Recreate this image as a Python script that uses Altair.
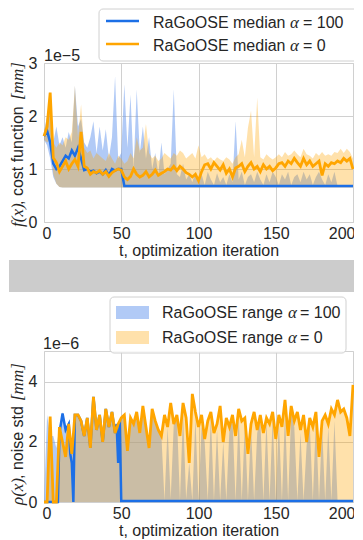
import altair as alt
import pandas as pd

# ---------------- data ----------------
T = list(range(0, 201, 2))

# top panel: f(x), cost function, units of 1e-5
fx_med_a100 = ([1.62, 1.72, 1.50, 1.10, 1.00, 1.05, 1.15, 1.25, 1.20, 1.35,
                1.25, 1.40, 1.20, 0.98, 1.00, 0.95, 0.97, 0.92, 0.95, 0.90,
                0.98, 0.88, 1.00, 0.97, 1.00, 1.00] + [0.68] * 75)
fx_med_a0 = [1.62, 1.80, 2.44, 1.21, 1.12, 0.95, 1.05, 1.15, 1.00, 1.10,
             1.18, 1.05, 1.70, 1.05, 1.02, 0.90, 0.95, 0.93, 0.97, 0.90,
             0.95, 0.86, 0.93, 0.97, 1.00, 0.98, 0.85, 0.80, 0.86, 1.00,
             0.90, 0.85, 0.88, 0.95, 0.85, 0.90, 0.98, 0.88, 0.92, 0.95,
             1.00, 0.98, 1.05, 0.97, 1.05, 1.00, 0.93, 0.90, 0.85, 0.90,
             0.78, 0.95, 1.08, 1.10, 1.00, 1.12, 1.05, 0.98, 1.08, 0.92,
             1.00, 0.85, 1.02, 1.05, 1.10, 0.95, 1.05, 1.12, 1.00, 1.05,
             0.95, 1.08, 1.00, 1.05, 0.97, 1.02, 1.10, 1.12, 1.05, 1.15,
             1.10, 1.20, 1.12, 1.05, 1.20, 1.08, 1.15, 1.05, 1.10, 1.15,
             0.88, 1.10, 1.05, 1.12, 1.10, 1.15, 1.12, 1.20, 1.15, 1.20,
             1.00]
fx_lo_a100 = [1.55, 1.45, 1.20, 0.85, 0.72, 0.66] + [0.65] * 95
fx_hi_a100 = [1.70, 2.00, 2.10, 1.50, 1.80, 1.45, 1.60, 1.40, 1.70, 1.50,
              2.57, 1.80, 1.95, 1.50, 1.40, 1.60, 1.90, 1.30, 1.80, 1.35,
              1.75, 1.20, 1.60, 2.75, 1.20, 1.30, 2.60, 1.40, 2.40, 1.00,
              2.50, 1.30, 1.80, 1.20, 1.60, 1.00, 1.30, 0.90, 1.50, 0.90,
              1.00, 1.10, 2.50, 0.90, 0.85, 1.10, 0.80, 0.90, 0.75, 0.95,
              0.80, 0.90, 0.70, 0.95, 0.80, 0.70, 0.92, 0.75, 0.85, 0.70,
              0.90, 0.75, 1.90, 0.80, 0.95, 0.70, 0.85, 0.90, 0.75, 0.95,
              0.80, 0.70, 0.90, 0.75, 0.95, 0.85, 0.70, 0.90, 0.80, 0.95,
              0.70, 0.85, 0.90, 0.75, 0.95, 0.80, 0.90, 0.70, 0.85, 0.95,
              0.80, 0.70, 0.90, 0.75, 0.95, 0.68, 0.68, 0.68, 0.68, 0.68,
              0.68]
fx_lo_a0 = [1.55, 1.50, 1.55, 0.90, 0.72, 0.66] + [0.65] * 95
fx_hi_a0 = [1.70, 2.00, 2.45, 1.50, 1.40, 1.50, 1.45, 1.60, 1.55, 1.70,
            2.57, 1.60, 2.22, 1.40, 1.30, 1.35, 1.20, 1.30, 1.25, 1.20,
            1.15, 1.30, 1.20, 1.10, 1.25, 1.20, 1.10, 1.15, 1.30, 1.20,
            1.60, 1.35, 1.40, 1.85, 1.30, 1.20, 1.25, 1.15, 1.20, 1.30,
            1.25, 1.20, 1.30, 1.25, 1.35, 1.30, 1.20, 1.25, 1.30, 1.20,
            1.45, 1.22, 1.28, 1.18, 1.22, 1.15, 1.22, 1.18, 1.15, 1.22,
            1.18, 1.10, 1.22, 1.28, 1.55, 1.22, 1.78, 2.10, 1.22, 2.35,
            1.22, 1.18, 1.28, 1.22, 1.18, 1.22, 1.28, 1.22, 1.32, 1.25,
            1.28, 1.35, 1.28, 1.22, 1.38, 1.28, 1.25, 1.20, 1.30, 1.25,
            1.32, 1.25, 1.28, 1.25, 1.32, 1.30, 1.38, 1.30, 1.38, 1.32,
            1.20]

# bottom panel: rho(x), noise std, units of 1e-6
rho_med_a0 = [0.00, 0.00, 2.85, 0.00, 0.00, 2.50, 2.00, 1.50, 2.60, 1.60,
              2.90, 2.90, 2.70, 2.20, 2.80, 1.80, 3.50, 2.40, 2.90, 2.00,
              3.10, 2.50, 3.00, 2.30, 2.60, 2.80, 2.90, 1.70, 2.80, 2.60,
              3.00, 2.30, 3.20, 2.50, 1.80, 3.10, 2.70, 2.40, 2.20, 2.90,
              2.50, 3.30, 2.60, 2.90, 2.20, 3.30, 2.80, 1.30, 3.60, 3.00,
              2.50, 2.90, 2.10, 2.70, 3.00, 2.30, 2.60, 3.20, 2.00, 2.80,
              2.50, 2.90, 2.20, 3.10, 2.70, 2.80, 1.60, 2.60, 3.00, 2.40,
              2.90, 2.30, 2.80, 2.60, 3.00, 2.10, 2.90, 2.50, 3.40, 2.20,
              3.20, 2.70, 3.00, 2.40, 2.90, 2.00, 2.80, 2.50, 3.00, 1.50,
              2.70, 2.90, 2.60, 3.10, 2.90, 3.40, 3.00, 3.10, 2.80, 2.20,
              3.90]
rho_hi_a100 = [0.00, 2.90, 2.20, 2.20, 1.80, 2.50, 3.00, 2.40, 2.60, 1.50,
               2.90, 2.90, 2.70, 2.20, 2.80, 1.80, 3.40, 2.40, 2.90, 2.00,
               3.00, 2.50, 3.00, 2.30, 2.60, 2.80, 2.90, 1.70, 2.80, 2.60,
               3.00, 2.30, 3.10, 2.50, 1.80, 3.00, 2.70, 2.40, 2.20, 0.05,
               2.50, 0.10, 2.60, 2.90, 0.05, 3.00, 0.10, 1.30, 0.05, 2.80,
               0.05, 2.50, 2.00, 0.05, 2.90, 0.05, 2.40, 0.05, 2.00, 0.05,
               2.40, 2.80, 0.05, 2.90, 0.05, 2.60, 0.05, 2.50, 0.05, 2.30,
               2.80, 0.05, 2.70, 0.05, 2.80, 0.05, 2.70, 0.05, 3.00, 0.05,
               3.00, 2.50, 0.05, 2.30, 0.05, 1.90, 2.60, 0.05, 2.80, 0.05,
               2.50, 0.05, 2.50, 0.05, 2.70, 0.05, 0.05, 0.05, 0.05, 0.05,
               0.05]
rho_med_a100_t = [0, 9, 10, 12, 14, 16, 17, 18, 19, 20, 22, 24, 26, 28, 30,
                  32, 34, 36, 38, 40, 42, 44, 46, 47, 48, 49, 50, 200]
rho_med_a100 = [0, 0, 2.3, 2.95, 2.4, 2.6, 1.6, 1.3, 0, 2.9, 2.9, 2.7, 2.2,
                2.8, 1.8, 3.5, 2.4, 2.9, 2.0, 3.1, 2.5, 3.0, 2.3, 2.6, 1.3,
                2.7, 0.03, 0.03]

x_ticks = [0, 50, 100, 150, 200]
fx_ticks = [0, 1, 2, 3]
rho_ticks = [0, 2, 4]

# ---------------- style ----------------
SANS = "Liberation Sans"
SERIF = "Liberation Serif"
INK = "#262626"
BLUE = "#1c6fe6"
ORANGE = "#ffa500"
BLUE_FILL = "#6495ed"
GREY = "#cccccc"
FRAME = "#d0d0d0"

top_df = pd.DataFrame({"t": T, "med100": fx_med_a100, "med0": fx_med_a0,
                       "lo100": fx_lo_a100, "hi100": fx_hi_a100,
                       "lo0": fx_lo_a0, "hi0": fx_hi_a0})
bot_df = pd.DataFrame({"t": T, "med0": rho_med_a0, "hi100": rho_hi_a100})
bot_blue = pd.DataFrame({"t": rho_med_a100_t, "med100": rho_med_a100})
one = pd.DataFrame({"k": [0]})


def X():
    return alt.X("t:Q", scale=alt.Scale(domain=[0, 200], nice=False, zero=False),
                 axis=alt.Axis(values=x_ticks, title="t, optimization iteration",
                               labelPadding=3, titlePadding=1,
                               labelFlush=True, labelFlushOffset=2))


def Y(field, domain, ticks):
    return alt.Y(f"{field}:Q", scale=alt.Scale(domain=domain, nice=False),
                 axis=alt.Axis(values=ticks, title=None, labelPadding=7))


def txt(s, x, y, font=SANS, size=16, italic=False, angle=None, baseline="alphabetic"):
    kw = dict(text=s, font=font, fontSize=size, color=INK, align="left",
              baseline=baseline)
    if italic:
        kw["fontStyle"] = "italic"
    if angle is not None:
        kw["angle"] = angle
    return alt.Chart(one).mark_text(**kw).encode(x=alt.value(x), y=alt.value(y))


def box(x, x2, y, y2, **kw):
    return alt.Chart(one).mark_rect(**kw).encode(
        x=alt.value(x), x2=alt.value(x2), y=alt.value(y), y2=alt.value(y2))


# ---------------- top panel ----------------
W = 309
H1 = 159
fxdom = [0, 3]
top_base = alt.Chart(top_df)
top = alt.layer(
    top_base.mark_area(color=BLUE_FILL, opacity=0.5).encode(
        x=X(), y=Y("lo100", fxdom, fx_ticks), y2="hi100:Q"),
    top_base.mark_area(color=ORANGE, opacity=0.33).encode(
        x=X(), y=Y("lo0", fxdom, fx_ticks), y2="hi0:Q"),
    top_base.mark_line(color=BLUE, strokeWidth=2.5).encode(
        x=X(), y=Y("med100", fxdom, fx_ticks)),
    top_base.mark_line(color=ORANGE, strokeWidth=2.8).encode(
        x=X(), y=Y("med0", fxdom, fx_ticks)),
    box(-35, 320, 197, 229, color=GREY),
    box(55, 315, -54, -2, fill="white", fillOpacity=0.85, stroke=FRAME,
        strokeWidth=1, cornerRadius=4),
    alt.Chart(one).mark_rule(color=BLUE, strokeWidth=2.5).encode(
        x=alt.value(62), x2=alt.value(95), y=alt.value(-42)),
    alt.Chart(one).mark_rule(color=ORANGE, strokeWidth=2.5).encode(
        x=alt.value(62), x2=alt.value(95), y=alt.value(-19)),
    txt("RaGoOSE median", 109, -35),
    txt("\u03b1", 246, -35, font=SERIF, italic=True, size=17),
    txt("= 100", 259, -35),
    txt("RaGoOSE median", 109, -12.5),
    txt("\u03b1", 246, -12.5, font=SERIF, italic=True, size=17),
    txt("= 0", 259, -12.5),
    txt("1e\u22125", 0, -2),
    txt("f(x)", -26, 164, font=SERIF, italic=True, size=17, angle=270, baseline="middle"),
    txt(", cost function", -26, 142, angle=270, baseline="middle"),
    txt("[mm]", -26, 37, font=SERIF, italic=True, size=17, angle=270, baseline="middle"),
).properties(width=W, height=H1)

# ---------------- bottom panel ----------------
H2 = 151
rhodom = [0, 5.03]
bot_base = alt.Chart(bot_df)
bottom = alt.layer(
    bot_base.mark_area(color=BLUE_FILL, opacity=0.5).encode(
        x=X(), y=Y("hi100", rhodom, rho_ticks)),
    bot_base.mark_area(color=ORANGE, opacity=0.33).encode(
        x=X(), y=Y("med0", rhodom, rho_ticks)),
    alt.Chart(bot_blue).mark_line(color=BLUE, strokeWidth=2.5).encode(
        x=X(), y=Y("med100", rhodom, rho_ticks)),
    bot_base.mark_line(color=ORANGE, strokeWidth=2.8).encode(
        x=X(), y=Y("med0", rhodom, rho_ticks)),
    box(-35, 320, -57, -52, color="white"),
    box(66, 302, -54, 2, fill="white", fillOpacity=0.85, stroke=FRAME,
        strokeWidth=1, cornerRadius=4),
    box(72, 105, -45, -32, color=BLUE_FILL, opacity=0.5),
    box(72, 105, -20, -7, color=ORANGE, opacity=0.33),
    txt("RaGoOSE range", 118, -33),
    txt("\u03b1", 244, -33, font=SERIF, italic=True, size=17),
    txt("= 100", 256, -33),
    txt("RaGoOSE range", 118, -8),
    txt("\u03b1", 244, -8, font=SERIF, italic=True, size=17),
    txt("= 0", 256, -8),
    txt("1e\u22126", -1, -2),
    txt("\u03c1(x)", -26, 154, font=SERIF, italic=True, size=17, angle=270, baseline="middle"),
    txt(", noise std", -26, 128, angle=270, baseline="middle"),
    txt("[mm]", -26, 50, font=SERIF, italic=True, size=17, angle=270, baseline="middle"),
).properties(width=W, height=H2)

chart = alt.vconcat(top, bottom, spacing=0).properties(
    padding={"left": 0, "top": 0, "right": -11, "bottom": 0}, background="white"
).configure_view(
    stroke=FRAME, strokeWidth=1
).configure_axis(
    labelFont=SANS, labelFontSize=16, labelColor=INK,
    titleFont=SANS, titleFontSize=16, titleColor=INK, titleFontWeight="normal",
    ticks=False, tickSize=0, domain=False,
    grid=True, gridColor=FRAME, gridWidth=1,
)

chart.save("out.html", embed_options={"renderer": "svg", "actions": False})
